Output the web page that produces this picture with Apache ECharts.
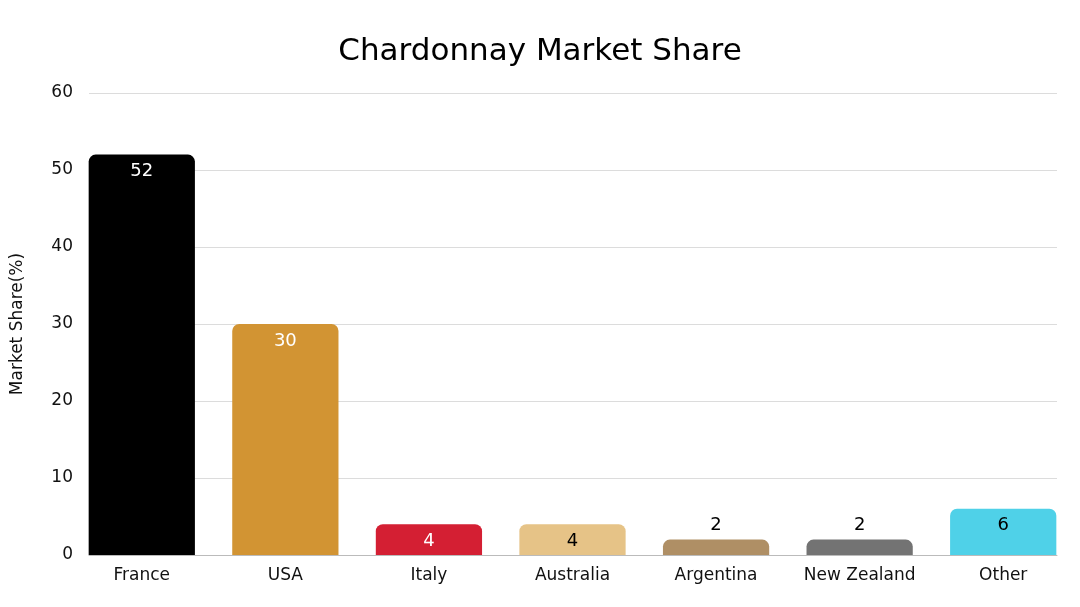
<!DOCTYPE html>
<html><head><meta charset="utf-8">
<script src="https://cdn.jsdelivr.net/npm/echarts@6/dist/echarts.min.js"></script>
<style>html,body{margin:0;padding:0;background:#fff}#c{width:1080px;height:607px}</style>
</head><body><div id="c"></div>
<script>
const categories = ["France","USA","Italy","Australia","Argentina","New Zealand","Other"];
const shares = [52,30,4,4,2,2,6];
const barColors = ["#000000","#D29433","#D41F33","#E6C387","#AF8F65","#737373","#4FD1E8"];
const labelColors = ["#ffffff","#ffffff","#ffffff","#000000","#000000","#000000","#000000"];
const labelPositions = ["insideTop","insideTop","insideTop","insideTop","top","top","insideTop"];
const yTicks = {min:0,max:60,interval:10};
const FONT = "'DejaVu Sans', sans-serif";

const chart = echarts.init(document.getElementById('c'));
chart.setOption({
  animation:false,
  title:{text:"Chardonnay Market Share",left:'center',top:31,textStyle:{fontFamily:FONT,fontSize:31,fontWeight:'normal',color:'#000'}},
  grid:[{left:89,right:23,top:93,bottom:52},{left:70,right:5,top:93,bottom:52}],
  xAxis:[
    {type:'category',gridIndex:0,data:categories,axisLine:{lineStyle:{color:'#bbb'}},axisTick:{show:false},axisLabel:{show:false}},
    {type:'category',gridIndex:1,data:categories,axisLine:{show:false},axisTick:{show:false},
     axisLabel:{interval:0,fontFamily:FONT,fontSize:17,color:'#111',margin:12}}
  ],
  yAxis:[
    {type:'value',gridIndex:0,min:yTicks.min,max:yTicks.max,interval:yTicks.interval,
     name:"Market Share(%)",nameLocation:'middle',nameGap:63,
     nameTextStyle:{fontFamily:FONT,fontSize:17,color:'#111'},
     axisLabel:{fontFamily:FONT,fontSize:17,color:'#111',margin:16},
     splitLine:{lineStyle:{color:'#dcdcdc'}},axisLine:{show:false},axisTick:{show:false}},
    {type:'value',gridIndex:1,min:yTicks.min,max:yTicks.max,interval:yTicks.interval,show:false,splitLine:{show:false}}
  ],
  series:[{type:'bar',xAxisIndex:1,yAxisIndex:1,barWidth:'74%',
    data:shares.map((v,i)=>({value:v,
      itemStyle:{color:barColors[i],borderRadius:[7,7,0,0]},
      label:{show:true,position:labelPositions[i],color:labelColors[i],distance:labelPositions[i]==='top'?5:8,fontFamily:FONT,fontSize:18}}))
  }]
});
</script></body></html>
